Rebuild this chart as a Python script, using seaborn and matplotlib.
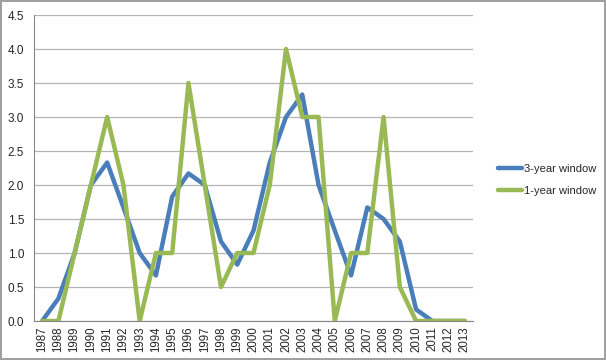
import numpy as np
import pandas as pd
import matplotlib
matplotlib.use("Agg")
import matplotlib.pyplot as plt
import seaborn as sns

years = list(range(1987, 2014))
three_year = [0, 0.33, 1.0, 2.0, 2.33, 1.67, 1.0, 0.67, 1.83, 2.17, 2.0, 1.17, 0.83,
              1.33, 2.33, 3.0, 3.33, 2.0, 1.33, 0.67, 1.67, 1.5, 1.17, 0.17, 0, 0, 0]
one_year = [0, 0, 1, 2, 3, 2, 0, 1, 1, 3.5, 2, 0.5, 1, 1, 2, 4, 3, 3, 0, 1, 1, 3, 0.5,
            0, 0, 0, 0]
series_names = ["3-year window", "1-year window"]
colors = ["#4a7ebb", "#98b954"]

df = pd.DataFrame({
    "pos": list(range(len(years))) * 2,
    "value": three_year + one_year,
    "series": [series_names[0]] * len(years) + [series_names[1]] * len(years),
})

sns.set_style("white")
plt.rcParams["font.family"] = ["Liberation Sans", "DejaVu Sans"]

fig = plt.figure(figsize=(6.06, 3.6), dpi=100)
fig.patch.set_edgecolor("#a0a0a0")
fig.patch.set_linewidth(1.5)
ax = fig.add_axes([34 / 606, 39 / 360, 439 / 606, 306 / 360])

sns.lineplot(data=df, x="pos", y="value", hue="series", palette=colors,
             linewidth=3.2, ax=ax, legend=False)

ax.set_xlim(-0.5, len(years) - 0.5)
ax.set_ylim(0, 4.5)
ax.set_yticks(np.arange(0, 4.51, 0.5))
ax.set_yticklabels([f"{v:.1f}" for v in np.arange(0, 4.51, 0.5)], fontsize=8.5)
ax.set_xticks(range(len(years)))
ax.set_xticklabels([str(y) for y in years], rotation=90, fontsize=8.3)
ax.set_xticks(np.arange(-0.5, len(years), 1), minor=True)
ax.tick_params(axis="x", which="major", length=0, pad=4)
ax.tick_params(axis="x", which="minor", length=4, color="#868686", width=0.8)
ax.tick_params(axis="y", length=4, color="#868686", width=0.8, pad=3)
ax.grid(axis="y", color="#b4b4b4", linewidth=0.9)
ax.set_axisbelow(True)
ax.set_xlabel("")
ax.set_ylabel("")
for side in ["top", "right"]:
    ax.spines[side].set_visible(False)
for side in ["left", "bottom"]:
    ax.spines[side].set_color("#868686")
    ax.spines[side].set_linewidth(0.8)

handles = [plt.Line2D([], [], color=c, linewidth=3.2) for c in colors]
fig.legend(handles, series_names, loc="center left", bbox_to_anchor=(488 / 606, 0.5),
           frameon=False, fontsize=8, handlelength=2.2, handletextpad=0.1,
           labelspacing=1.1)

fig.savefig("out.png", dpi=100)
